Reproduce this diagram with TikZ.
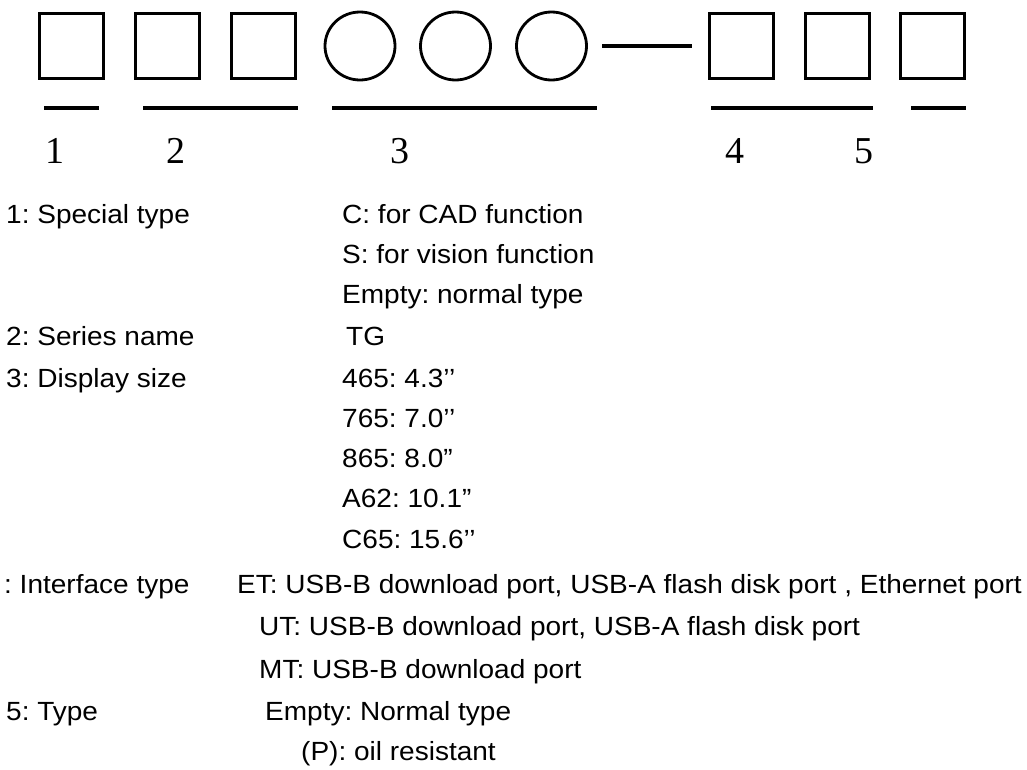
\documentclass[tikz,border=0pt]{standalone}
\usepackage{fontspec}
\usetikzlibrary{shapes.geometric}
\newfontfamily\txtfont[FakeStretch=1.065]{Liberation Sans}
\newfontfamily\numfont{Liberation Serif}
\frenchspacing
\begin{document}
\begin{tikzpicture}[x=1pt,y=-1pt,
  sq/.style={draw,line width=3pt,minimum width=64pt,minimum height=65pt,inner sep=0pt},
  ov/.style={draw,ellipse,line width=2.8pt,minimum width=70pt,minimum height=68pt,inner sep=0pt},
  bar/.style={line width=3.5pt},
  num/.style={anchor=base,inner sep=0pt,font=\numfont\fontsize{38}{38}\selectfont},
  lbl/.style={anchor=base west,inner sep=0pt,font=\txtfont\fontsize{26.3}{26.3}\selectfont}]
\useasboundingbox (0,0) rectangle (1027,769);
% boxes and circles
\node[sq] (b1) at (71.5,46) {};
\node[sq] (b2) at (167.5,46) {};
\node[sq] (b3) at (263.5,46) {};
\node[ov] (c1) at (360,46) {};
\node[ov] (c2) at (455.5,46) {};
\node[ov] (c3) at (551.5,46) {};
\coordinate (d1) at (602,46);
\coordinate (d2) at (692,46);
\draw[line width=4pt] (d1) -- (d2);
\node[sq] (b4) at (741.5,46) {};
\node[sq] (b5) at (837,46) {};
\node[sq] (b6) at (932.5,46) {};
% underlines
\coordinate (u1a) at (44,108); \coordinate (u1b) at (99,108);
\coordinate (u2a) at (143,108); \coordinate (u2b) at (298,108);
\coordinate (u3a) at (332,108); \coordinate (u3b) at (597,108);
\coordinate (u4a) at (711,108); \coordinate (u4b) at (873,108);
\coordinate (u5a) at (911,108); \coordinate (u5b) at (966,108);
\draw[bar] (u1a) -- (u1b);
\draw[bar] (u2a) -- (u2b);
\draw[bar] (u3a) -- (u3b);
\draw[bar] (u4a) -- (u4b);
\draw[bar] (u5a) -- (u5b);
% numbers
\node[num] (n1) at (55,163) {1};
\node[num] (n2) at (176,163) {2};
\node[num] (n3) at (400,163) {3};
\node[num] (n4) at (735,163) {4};
\node[num] (n5) at (864,163) {5};
% left column
\node[lbl] (l1) at (6,223) {1: Special type};
\node[lbl] (l2) at (6,345) {2: Series name};
\node[lbl] (l3) at (6,387) {3: Display size};
\node[lbl] (l4) at (4,593) {: Interface type};
\node[lbl] (l5) at (6,720) {5: Type};
% right column
\node[lbl] (r1) at (342,223) {C: for CAD function};
\node[lbl] (r2) at (342,263) {S: for vision function};
\node[lbl] (r3) at (342,303) {Empty: normal type};
\node[lbl] (r4) at (346,345) {TG};
\node[lbl] (r5) at (342,387) {465: 4.3’’};
\node[lbl] (r6) at (342,427) {765: 7.0’’};
\node[lbl] (r7) at (342,467) {865: 8.0”};
\node[lbl] (r8) at (342,507) {A62: 10.1”};
\node[lbl] (r9) at (342,548) {C65: 15.6’’};
\node[lbl] (r10) at (237,593) {ET: USB-B download port, USB-A flash disk port , Ethernet port};
\node[lbl] (r11) at (259,635) {UT: USB-B download port, USB-A flash disk port};
\node[lbl] (r12) at (259,678) {MT: USB-B download port};
\node[lbl] (r13) at (265,720) {Empty: Normal type};
\node[lbl] (r14) at (301,760) {(P): oil resistant};
\end{tikzpicture}
\end{document}
